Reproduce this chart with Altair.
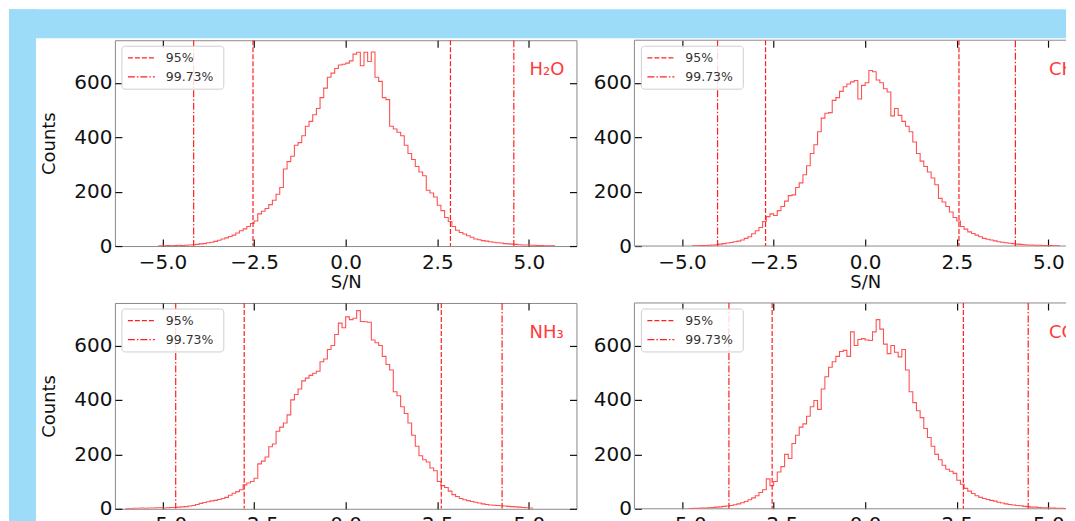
import altair as alt
import pandas as pd

# ---------------- data ----------------
BIN = 0.1
X_TICKS = [-5.0, -2.5, 0.0, 2.5, 5.0]
Y_TICKS = [0, 200, 400, 600]
X_MIN, X_MAX = -6.3, 6.3
Y_DOMAIN = [0, 756]

molecules = ["H₂O", "CH₄", "NH₃", "CO"]
starts = [-5.1, -4.7, -6.0, -4.8]

h2o_counts = [1, 1, 2, 1, 2, 3, 2, 3, 4, 5,
              6, 8, 9, 12, 14, 17, 21, 26, 30, 35,
              40, 48, 56, 63, 72, 83, 92, 118, 128, 138,
              152, 168, 190, 215, 283, 310, 330, 370, 380, 405,
              440, 458, 482, 505, 545, 580, 620, 635, 652, 665,
              668, 672, 680, 705, 712, 662, 712, 678, 713, 620,
              605, 545, 538, 440, 430, 418, 405, 370, 340, 318,
              292, 272, 258, 205, 195, 180, 150, 130, 105, 90,
              72, 58, 50, 44, 38, 32, 26, 23, 20, 18,
              16, 14, 12, 11, 9, 8, 7, 6, 5, 4,
              4, 3, 3, 2, 2, 1, 1, 1]

ch4_counts = [1, 1, 2, 2, 3, 4, 5, 7, 9, 11,
              13, 16, 18, 22, 28, 34, 45, 56, 68, 90,
              108, 118, 112, 130, 145, 165, 185, 188, 215, 232,
              262, 295, 340, 372, 420, 470, 488, 490, 535, 545,
              568, 585, 595, 603, 608, 540, 590, 600, 645, 640,
              610, 600, 578, 566, 478, 505, 480, 458, 440, 420,
              382, 340, 312, 292, 272, 250, 225, 175, 162, 145,
              125, 105, 92, 72, 62, 52, 46, 40, 34, 28,
              25, 22, 19, 16, 14, 12, 10, 9, 7, 6,
              5, 4, 4, 3, 3, 2, 2, 2, 1, 1]

nh3_counts = [1, 1, 2, 2, 3, 2, 3, 3, 4, 4,
              3, 4, 5, 5, 6, 7, 8, 10, 12, 16,
              20, 23, 26, 29, 31, 34, 38, 42, 50, 57,
              63, 70, 88, 95, 100, 112, 165, 175, 190, 228,
              238, 285, 300, 315, 345, 400, 420, 440, 470, 480,
              490, 498, 505, 540, 550, 585, 600, 640, 682, 665,
              705, 695, 700, 728, 688, 687, 685, 620, 610, 600,
              560, 530, 510, 430, 415, 375, 350, 315, 270, 230,
              195, 180, 172, 150, 140, 100, 85, 78, 65, 52,
              45, 38, 33, 30, 27, 24, 21, 18, 16, 14,
              13, 12, 11, 10, 9, 8, 7, 6, 5, 4, 3]

co_counts = [1, 2, 2, 3, 3, 4, 5, 6, 7, 9,
             10, 12, 15, 18, 22, 27, 33, 40, 48, 60,
             70, 110, 85, 100, 135, 155, 200, 185, 240, 270,
             300, 312, 340, 375, 398, 365, 440, 485, 520, 540,
             560, 578, 582, 560, 650, 600, 622, 625, 620, 618,
             650, 695, 660, 605, 570, 600, 575, 558, 585, 510,
             430, 390, 360, 335, 295, 262, 230, 200, 180, 160,
             145, 138, 130, 105, 90, 75, 65, 56, 48, 42,
             38, 34, 31, 28, 24, 21, 18, 16, 14, 12,
             11, 9, 8, 6, 6, 5, 4, 4, 3, 3, 2, 2, 1, 1, 1]

counts_list = [h2o_counts, ch4_counts, nh3_counts, co_counts]
lim95 = [(-2.53, 2.86), (-2.72, 2.56), (-2.77, 2.61), (-2.54, 2.68)]
lim9973 = [(-4.15, 4.59), (-4.03, 4.10), (-4.64, 4.27), (-3.72, 4.45)]
kinds = ["95%", "99.73%"]

# ---------------- styles / layout ----------------
HIST_COLOR = "#ff5252"
VLINE_COLOR = "#ff1f1f"
LABEL_COLOR = "#ff3a3a"
FRAME_COLOR = "#8a8a8a"
SLIDE_BLUE = "#9cdcf9"
DASHES = [[5, 2], [7, 2, 1.5, 2]]
PANEL_W, PANEL_H = 462, 206
RIGHT_W = 432            # right column is cut by the window edge
PX_PER_UNIT = PANEL_W / (X_MAX - X_MIN)

TICKS = dict(offset=-7, tickSize=7, domain=False, grid=False, ticks=True,
             tickColor="#111111", tickWidth=1.2, labelFlush=False)


def hist_df(start, counts):
    xs, ys = [start], [0]
    for i, c in enumerate(counts):
        xs.append(round(start + i * BIN, 3))
        ys.append(c)
    end = round(start + len(counts) * BIN, 3)
    xs += [end, end]
    ys += [counts[-1], 0]
    return pd.DataFrame({"x": xs, "count": ys, "i": list(range(len(xs)))})


def legend_layers(dash_scale):
    one = pd.DataFrame({"r": [0]})
    box = alt.Chart(one).mark_rect(
        fill="white", fillOpacity=0.82, stroke="#cfcfcf", strokeWidth=1, cornerRadius=3
    ).encode(x=alt.value(7), x2=alt.value(109), y=alt.value(6), y2=alt.value(49))
    out = [box]
    for j, kind in enumerate(kinds):
        row = pd.DataFrame({"kind": [kind]})
        yy = 17.7 + 19 * j
        out.append(alt.Chart(row).mark_rule(color=VLINE_COLOR, strokeWidth=1.1).encode(
            x=alt.value(13), x2=alt.value(40), y=alt.value(yy),
            strokeDash=alt.StrokeDash("kind:N", scale=dash_scale, legend=None)))
        out.append(alt.Chart(row).mark_text(
            align="left", baseline="middle", fontSize=12.5, color="#333333"
        ).encode(x=alt.value(51), y=alt.value(yy), text="kind:N"))
    return out


def panel(k):
    left = (k % 2 == 0)
    width = PANEL_W if left else RIGHT_W
    x_max = X_MAX if left else X_MIN + width / PX_PER_UNIT

    hist = hist_df(starts[k], counts_list[k])
    rules = pd.DataFrame({
        "x": [lim95[k][0], lim95[k][1], lim9973[k][0], lim9973[k][1]],
        "kind": [kinds[0], kinds[0], kinds[1], kinds[1]],
    })
    xs = alt.Scale(domain=[X_MIN, x_max], nice=False, zero=False)
    ys = alt.Scale(domain=Y_DOMAIN, nice=False, zero=False)
    dash_scale = alt.Scale(domain=kinds, range=DASHES)

    y_axis = dict(orient="left", values=Y_TICKS, labelPadding=3, **TICKS)
    if left:
        y_axis.update(title="Counts", titlePadding=15)
    else:
        y_axis.update(title=None)

    x_axis = dict(orient="bottom", values=X_TICKS, format=".1f", title="S/N",
                  labelPadding=6, titlePadding=2, **TICKS)
    if not left:
        x_axis.update(titleX=PANEL_W / 2)

    line = alt.Chart(hist).mark_line(
        interpolate="step-after", color=HIST_COLOR, strokeWidth=1.1, clip=True
    ).encode(
        x=alt.X("x:Q", scale=xs, axis=alt.Axis(**x_axis)),
        y=alt.Y("count:Q", scale=ys, axis=alt.Axis(**y_axis)),
        order="i:Q",
    )

    vlines = alt.Chart(rules).mark_rule(
        color=VLINE_COLOR, strokeWidth=1.2, clip=True
    ).encode(
        x=alt.X("x:Q", scale=xs,
                axis=alt.Axis(orient="top", values=X_TICKS, labels=False,
                              title=None, **TICKS)),
        strokeDash=alt.StrokeDash("kind:N", scale=dash_scale, legend=None),
    )

    label = alt.Chart(pd.DataFrame({"name": [molecules[k]]})).mark_text(
        align="left", baseline="middle", fontSize=18, color=LABEL_COLOR, clip=True
    ).encode(x=alt.value(415), y=alt.value(30), text="name:N")

    layers = [line, vlines] + legend_layers(dash_scale) + [label]
    one = pd.DataFrame({"r": [0]})

    if left:
        right_axis = alt.Chart(hist).mark_point(opacity=0, clip=True).encode(
            x=alt.X("x:Q", scale=xs, axis=None),
            y=alt.Y("count:Q", scale=ys,
                    axis=alt.Axis(orient="right", values=Y_TICKS, labels=False,
                                  title=None, **TICKS)),
        )
        layers.append(right_axis)
    else:
        # frame (left, top, bottom); its right side lies beyond the window
        frame = [
            alt.Chart(one).mark_rule(color=FRAME_COLOR, strokeWidth=1).encode(
                x=alt.value(0), y=alt.value(0), y2=alt.value(PANEL_H)),
            alt.Chart(one).mark_rule(color=FRAME_COLOR, strokeWidth=1).encode(
                x=alt.value(0), x2=alt.value(width), y=alt.value(0)),
            alt.Chart(one).mark_rule(color=FRAME_COLOR, strokeWidth=1).encode(
                x=alt.value(0), x2=alt.value(width), y=alt.value(PANEL_H)),
        ]
        layers = frame + layers

    if k == 0:
        top_strip = alt.Chart(one).mark_rect(color=SLIDE_BLUE).encode(
            x=alt.value(-106), x2=alt.value(952), y=alt.value(-31), y2=alt.value(-2))
        left_strip = alt.Chart(one).mark_rect(color=SLIDE_BLUE).encode(
            x=alt.value(-106), x2=alt.value(-79), y=alt.value(-31), y2=alt.value(520))
        layers = [top_strip, left_strip] + layers

    ch = alt.layer(*layers).resolve_axis(
        x="independent", y="independent"
    ).properties(width=width, height=PANEL_H)
    if not left:
        ch = ch.properties(view=alt.ViewConfig(stroke="transparent"))
    return ch


chart = alt.concat(
    panel(0), panel(1), panel(2), panel(3),
    columns=2, spacing={"row": 57, "column": 58}, bounds="flush",
).resolve_scale(
    x="independent", y="independent", strokeDash="independent"
).properties(
    padding=0
).configure(
    background="white", font="DejaVu Sans"
).configure_view(
    stroke=FRAME_COLOR, strokeWidth=1
).configure_axis(
    labelFontSize=20, titleFontSize=18, labelColor="#111111", titleColor="#111111",
    labelFont="DejaVu Sans", titleFont="DejaVu Sans", titleFontWeight="normal"
)

chart.save("out.html", embed_options={"renderer": "svg", "actions": False})
